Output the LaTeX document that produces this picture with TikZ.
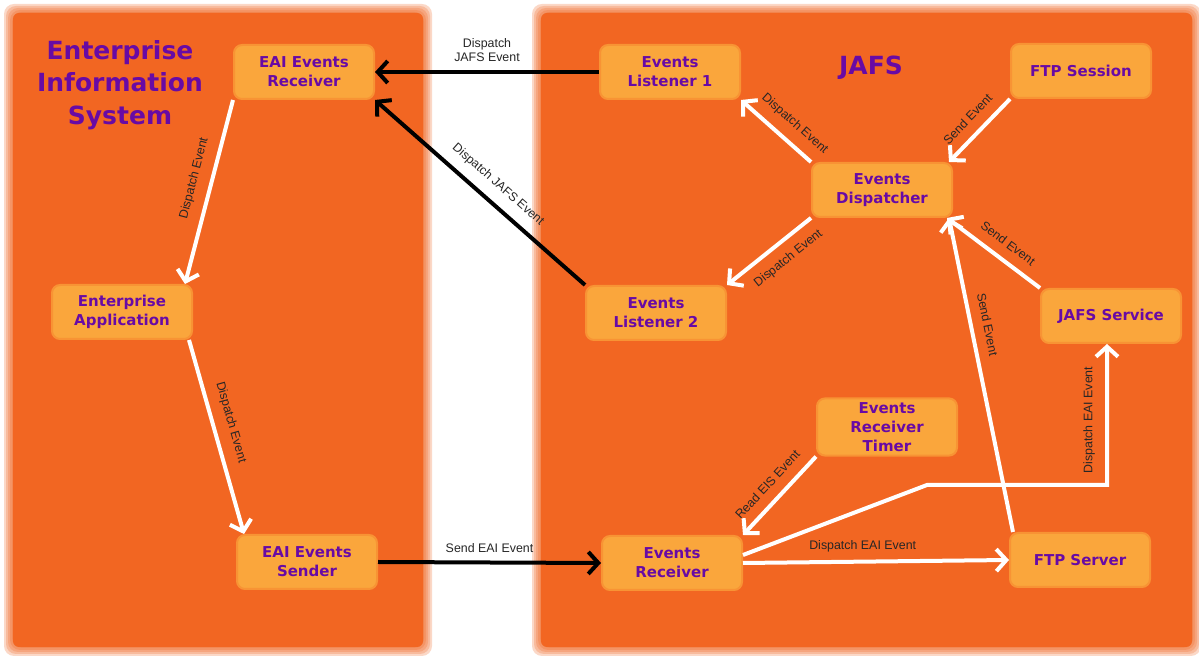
\documentclass[tikz,border=0pt]{standalone}
\usepackage{fontspec}
\setmainfont{Liberation Sans}
\newfontfamily\grasfont{DejaVu Sans}
\usetikzlibrary{arrows.meta}

\definecolor{orangefonce}{RGB}{242,102,34}
\definecolor{orangeclair}{RGB}{250,166,60}
\definecolor{violetjafs}{RGB}{104,10,165}

\tikzset{
    boite/.style={fill=orangeclair, draw=orangeclair!70!orangefonce, line width=1pt,
        rounded corners=4pt, minimum width=70pt, minimum height=27pt, inner sep=2pt,
        align=center, text=violetjafs, font=\grasfont\bfseries\fontsize{7.5}{9.5}\selectfont},
    titre/.style={align=center, text=violetjafs, font=\grasfont\bfseries\fontsize{12.5}{16.2}\selectfont},
    fleche/.style={draw=white, line width=2pt, -{Straight Barb[length=5pt,width=11pt]}},
    flechenoire/.style={fleche, draw=black},
    etiq/.style={font=\fontsize{6.2}{7}\selectfont, text=black!85, inner sep=1pt, align=center}
}

\begin{document}
\begin{tikzpicture}[x=0.5pt, y=-0.5pt]
    % cadre de l'image
    \useasboundingbox[fill=white] (0,0) rectangle (1199,656);

    % les deux zones orange, bords adoucis
    \foreach \d in {-4,-2,...,4} {
        \fill[orangefonce, opacity=0.25, rounded corners=5pt] (8+\d,8+\d) rectangle (428-\d,652-\d);
        \fill[orangefonce, opacity=0.25, rounded corners=5pt] (536+\d,8+\d) rectangle (1197-\d,652-\d);
    }
    \fill[orangefonce, rounded corners=3pt] (13,13) rectangle (423,647);
    \fill[orangefonce, rounded corners=3pt] (541,13) rectangle (1192,647);

    % titres des zones
    \node[titre] (eis) at (120,85) {Enterprise\\Information\\System};
    \node[titre] (jafs) at (871,68) {JAFS};

    % boites du systeme EIS
    \node[boite] (erecv) at (304,72) {EAI Events\\Receiver};
    \node[boite] (eapp) at (122,312) {Enterprise\\Application};
    \node[boite] (esend) at (307,562) {EAI Events\\Sender};

    % boites de JAFS
    \node[boite] (list1) at (670,72) {Events\\Listener 1};
    \node[boite] (list2) at (656,313) {Events\\Listener 2};
    \node[boite] (fsess) at (1081,71) {FTP Session};
    \node[boite] (disp) at (882,190) {Events\\Dispatcher};
    \node[boite] (serv) at (1111,316) {JAFS Service};
    \node[boite] (timer) at (887,427) {Events\\Receiver\\Timer};
    \node[boite] (recv) at (672,563) {Events\\Receiver};
    \node[boite] (fsrv) at (1080,560) {FTP Server};

    % fleches noires entre les deux systemes
    \draw[flechenoire] (list1.west) -- node[etiq, above=3pt] {Dispatch\\JAFS Event} (erecv.east);
    \draw[flechenoire] (list2.north west) -- node[etiq, sloped, above=4pt, pos=0.47] {Dispatch JAFS Event} (erecv.south east);
    \draw[flechenoire] (esend.east) -- node[etiq, above=3pt] {Send EAI Event} (recv.west);

    % fleches blanches dans EIS
    \draw[fleche] (erecv.south west) -- node[etiq, sloped, above=4pt, pos=0.45] {Dispatch Event} ([xshift=-4pt]eapp.north east);
    \draw[fleche] ([xshift=-2pt]eapp.south east) -- node[etiq, sloped, above=4pt, pos=0.45] {Dispatch Event} ([xshift=4pt]esend.north west);

    % fleches blanches dans JAFS
    \draw[fleche] (disp.north west) -- node[etiq, sloped, above=4pt, pos=0.4] {Dispatch Event} (list1.south east);
    \draw[fleche] (disp.south west) -- node[etiq, sloped, below=4pt, pos=0.4] {Dispatch Event} (list2.north east);
    \draw[fleche] (fsess.south west) -- node[etiq, sloped, above=4pt] {Send Event} ([xshift=-2pt]disp.north east);
    \draw[fleche] (serv.north west) -- node[etiq, sloped, above=4pt, pos=0.45] {Send Event} ([xshift=-3pt]disp.south east);
    \draw[fleche] ([xshift=2pt]fsrv.north west) -- node[etiq, sloped, above=4pt, pos=0.65] {Send Event} ([xshift=-2pt]disp.south east);
    \draw[fleche] (timer.south west) -- node[etiq, sloped, above=4pt] {Read EIS Event} (recv.north east);
    \draw[fleche] (recv.east) -- node[etiq, above=3pt, pos=0.45] {Dispatch EAI Event} (fsrv.west);

    % chemin coude vers JAFS Service
    \coordinate (coude) at (927,485);
    \draw[fleche] ([yshift=4pt]recv.east) -- (coude) -| node[etiq, sloped, above=4pt, pos=0.73] {Dispatch EAI Event} ([xshift=-2pt]serv.south);
\end{tikzpicture}
\end{document}
